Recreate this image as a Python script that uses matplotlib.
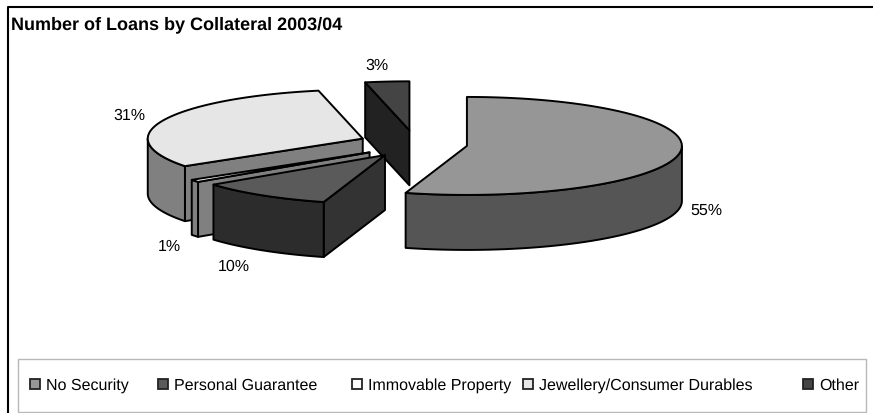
import numpy as np
import matplotlib
matplotlib.use("Agg")
import matplotlib.pyplot as plt
from matplotlib.patches import Polygon, Rectangle

plt.rcParams['font.family'] = ['Liberation Sans', 'DejaVu Sans']
plt.rcParams['text.hinting'] = 'no_hinting'
plt.rcParams['text.hinting_factor'] = 1

categories = ["No Security", "Personal Guarantee", "Immovable Property",
              "Jewellery/Consumer Durables", "Other"]
values = [54.6, 10.1, 0.8, 31.2, 3.3]
explode = [0.244, 0.245, 0.26, 0.262, 0.25]

top_colors = ["#969696", "#5a5a5a", "#ffffff", "#e6e6e6", "#444444"]
wall_colors = ["#555555", "#2c2c2c", "#808080", "#808080", "#222222"]
cut_colors = ["#555555", "#333333", "#808080", "#808080", "#222222"]

label_pos = [(706, 211), (234, 267), (169, 247), (129, 116), (377, 66)]
legend_x = [30, 158, 352, 523, 803]

# pie geometry in pixels
cx, cy = 415, 145
rx, ry = 215, 49
depth = 55
ex, ey = 215, 55

fig = plt.figure(figsize=(8.73, 4.14), dpi=100)
ax = fig.add_axes([0, 0, 1, 1])
ax.set_xlim(0, 873)
ax.set_ylim(414, 0)
ax.axis("off")

# frame runs off the right and bottom edge of the picture
ax.plot([7.5, 7.5, 873], [414, 7.5, 7.5], color="black", lw=1.5)
ax.text(11, 25, "Number of Loans by Collateral 2003/04", fontsize=13.25, fontweight="bold",
        va="center", ha="left")


def arc(x0, y0, t0, t1):
    t = np.radians(np.linspace(t0, t1, 80))
    return np.column_stack([x0 + rx * np.sin(t), y0 - ry * np.cos(t)])


def face(pts, color):
    ax.add_patch(Polygon(pts, closed=True, fc=color, ec="black", lw=1.4, joinstyle="round"))


edges = np.concatenate([[0], np.cumsum(values)]) / sum(values) * 360

for i in [4, 3, 2, 1, 0]:
    t0, t1 = edges[i], edges[i + 1]
    mid = np.radians((t0 + t1) / 2)
    x0 = cx + explode[i] * ex * np.sin(mid)
    y0 = cy - explode[i] * ey * np.cos(mid)

    # start cut is the only one that can face the viewer
    if np.sin(np.radians(t0)) < 0:
        rim = arc(x0, y0, t0, t0)[0]
        face([(x0, y0), rim, (rim[0], rim[1] + depth), (x0, y0 + depth)], cut_colors[i])

    w0, w1 = max(t0, 90), min(t1, 270)
    if w1 > w0:
        a = arc(x0, y0, w0, w1)
        b = a[::-1] + [0, depth]
        face(np.vstack([a, b]), wall_colors[i])

    face(np.vstack([[(x0, y0)], arc(x0, y0, t0, t1)]), top_colors[i])

for i, v in enumerate(values):
    ax.text(label_pos[i][0], label_pos[i][1], f"{v:.0f}%", fontsize=11.7, ha="center", va="center")

ax.add_patch(Rectangle((18, 360), 848, 53, fc="white", ec="#b8b8b8", lw=1))
for i, name in enumerate(categories):
    ax.add_patch(Rectangle((legend_x[i], 380), 10, 10, fc=top_colors[i], ec="#222222", lw=1.3))
    ax.text(legend_x[i] + 16, 386, name, fontsize=11.8, ha="left", va="center")

fig.savefig("out.png", dpi=100)
